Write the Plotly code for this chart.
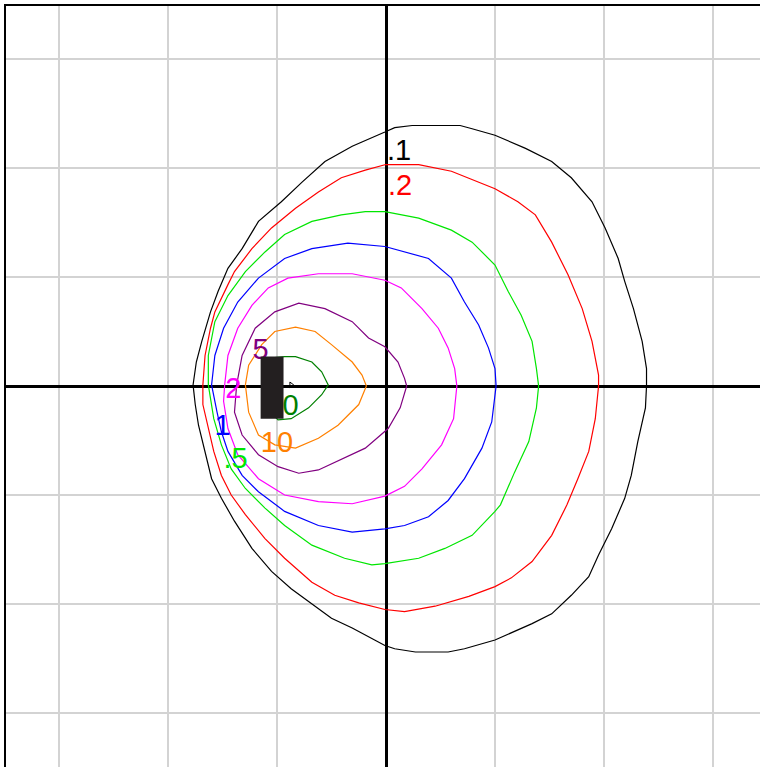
import plotly.graph_objects as go

# Contour levels, colours, closed contour outlines (data units: gridline every 100)
levels = [".1", ".2", ".5", "1", "2", "5", "10", "20"]
colors = ["#000000", "#ff0000", "#00e600", "#0000ff", "#ff00ff", "#800080", "#ff8000", "#008000"]

c01_x = [-1, 8, 24, 45, 68, 79, 100, 128, 152, 170, 189, 201, 213, 219, 227, 235, 239, 239, 238, 231, 225, 219, 207, 195, 186, 170, 152, 134, 100, 72, 57, 27, 8, -1, -16, -31, -50, -62, -87, -105, -123, -139, -151, -160, -166, -172, -175, -177, -174, -169, -161, -154, -145, -132, -117, -96, -77, -56, -31, -10]
c01_y = [233, 237, 239, 239, 239, 236, 230, 218, 206, 191, 169, 145, 117, 96, 71, 41, 16, 0, -20, -51, -82, -103, -131, -155, -175, -192, -209, -218, -233, -241, -244, -244, -241, -238, -230, -222, -213, -204, -186, -170, -149, -124, -103, -85, -60, -36, -17, 1, 22, 41, 68, 87, 108, 126, 151, 169, 187, 206, 220, 229]

c02_x = [-1, 30, 60, 100, 121, 137, 152, 167, 180, 189, 195, 195, 192, 186, 176, 166, 152, 134, 115, 100, 76, 45, 17, -1, -25, -47, -68, -93, -111, -129, -142, -151, -158, -163, -168, -168, -166, -161, -157, -145, -139, -123, -105, -83, -62, -41, -19]
c02_y = [203, 203, 197, 181, 169, 157, 132, 102, 71, 41, 10, 0, -30, -60, -85, -109, -137, -161, -176, -184, -193, -202, -207, -205, -199, -192, -180, -158, -140, -118, -100, -82, -60, -39, -17, 1, 28, 53, 68, 93, 105, 126, 145, 163, 178, 191, 198]

c05_x = [-1, 30, 60, 79, 100, 112, 124, 134, 138, 140, 138, 131, 118, 105, 100, 79, 54, 30, -1, -13, -38, -68, -93, -111, -129, -142, -151, -158, -163, -163, -157, -145, -129, -111, -93, -68, -41, -19]
c05_y = [160, 154, 143, 132, 111, 87, 65, 41, 16, 0, -20, -51, -79, -109, -115, -137, -149, -158, -163, -164, -158, -146, -128, -112, -94, -76, -54, -30, 1, 28, 59, 83, 105, 123, 139, 151, 157, 160]

c1_x = [-1, 17, 39, 60, 72, 85, 94, 100, 101, 97, 88, 72, 57, 39, 17, -1, -31, -62, -93, -117, -132, -145, -151, -155, -160, -157, -149, -136, -117, -93, -68, -35]
c1_y = [128, 123, 117, 99, 77, 56, 35, 16, 0, -33, -57, -85, -105, -120, -128, -131, -134, -128, -115, -97, -82, -60, -42, -24, 1, 28, 53, 77, 99, 117, 126, 131]

c2_x = [-1, 14, 33, 48, 57, 63, 65, 62, 51, 33, 17, -1, -31, -62, -93, -117, -136, -145, -149, -148, -145, -136, -123, -108, -90, -62, -31]
c2_y = [97, 90, 71, 53, 35, 16, 0, -30, -54, -76, -92, -101, -108, -106, -100, -85, -63, -39, -14, 1, 28, 53, 74, 90, 99, 103, 103]

c5_x = [-137, -132, -120, -102, -80, -56, -31, -16, -1, 11, 17, 19, 13, 2, -19, -44, -62, -80, -99, -117, -132, -139]
c5_y = [1, 28, 53, 68, 76, 71, 59, 44, 36, 22, 7, 0, -20, -39, -57, -69, -77, -80, -74, -63, -45, -24]

c10_x = [-129, -126, -114, -102, -83, -65, -50, -31, -22, -18, -25, -44, -62, -83, -102, -117, -126]
c10_y = [1, 19, 38, 50, 54, 50, 38, 22, 10, 0, -17, -36, -48, -57, -54, -45, -24]

c20_x = [-111, -108, -102, -93, -83, -68, -59, -53, -59, -71, -87, -99, -108]
c20_y = [1, 22, 26, 27, 27, 22, 13, 1, -8, -20, -30, -31, -22]

contours_x = [c01_x, c02_x, c05_x, c1_x, c2_x, c5_x, c10_x, c20_x]
contours_y = [c01_y, c02_y, c05_y, c1_y, c2_y, c5_y, c10_y, c20_y]

# Contour label positions
label_x = [12, 13, -138, -150, -140, -115, -100, -95]
label_y = [214, 182, -69, -38, -4, 31, -54, -20]

# Source building (rectangle) corners and source point
bld_x = [-115, -94]
bld_y = [-30, 27]
src_x = [-87]
src_y = [1]

fig = go.Figure()

for xs, ys, col in zip(contours_x, contours_y, colors):
    fig.add_trace(go.Scatter(
        x=xs + [xs[0]], y=ys + [ys[0]], mode="lines",
        line=dict(color=col, width=1.2), hoverinfo="skip", showlegend=False))

fig.add_trace(go.Scatter(
    x=label_x, y=label_y, mode="text", text=levels,
    textposition="middle center",
    textfont=dict(family="Liberation Sans, Arial, sans-serif", size=29, color=colors),
    hoverinfo="skip", showlegend=False))

fig.add_trace(go.Scatter(
    x=src_x, y=src_y, mode="markers",
    marker=dict(symbol="triangle-right-open", size=5, color="#000000", line=dict(width=1)),
    hoverinfo="skip", showlegend=False))

fig.add_shape(type="rect", x0=bld_x[0], x1=bld_x[1], y0=bld_y[0], y1=bld_y[1],
              xref="x", yref="y", fillcolor="#231f20", line=dict(width=0), layer="above")

fig.update_layout(
    width=760, height=767,
    margin=dict(l=6, r=0, t=6, b=0),
    paper_bgcolor="white", plot_bgcolor="white",
    xaxis=dict(range=[-348.6, 343.1], dtick=100, tick0=0, showticklabels=False, ticks="",
               showgrid=True, gridcolor="#d3d3d3", gridwidth=2,
               zeroline=True, zerolinecolor="black", zerolinewidth=3,
               side="top", showline=True, linecolor="black", linewidth=2),
    yaxis=dict(range=[-349.5, 348.6], dtick=100, tick0=0, showticklabels=False, ticks="",
               showgrid=True, gridcolor="#d3d3d3", gridwidth=2,
               zeroline=True, zerolinecolor="black", zerolinewidth=3,
               showline=True, linecolor="black", linewidth=2),
)

fig.write_html("out.html", config={"displayModeBar": False},
               post_script="document.body.style.margin='0';")
